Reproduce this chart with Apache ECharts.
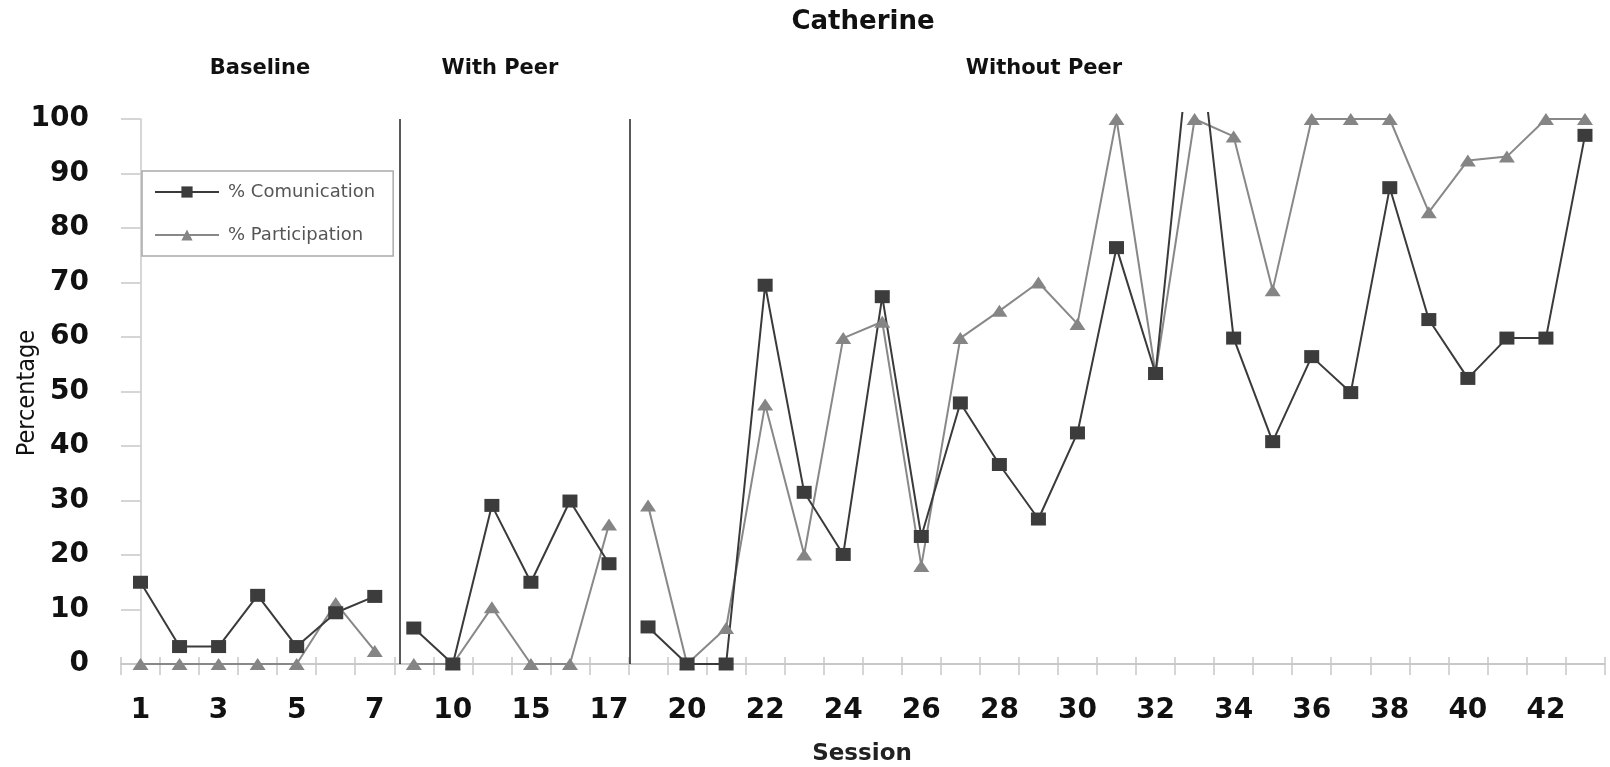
<!DOCTYPE html>
<html>
<head>
<meta charset="utf-8">
<script src="https://cdn.jsdelivr.net/npm/echarts@6/dist/echarts.min.js"></script>
<style>
  html, body { margin: 0; padding: 0; background: #fff; }
  #chart { width: 1610px; height: 767px; }
</style>
</head>
<body>
<div id="chart"></div>
<script>
// ---- Data ----
const sessions = ['1','2','3','4','5','6','7','8','10','13','15','16','17','19',
  '20','21','22','23','24','25','26','27','28','29','30','31','32','33','34','35',
  '36','37','38','39','40','41','42','43'];
const phaseNames = ['Baseline', 'With Peer', 'Without Peer'];

const commBaseline    = [15.0, 3.2, 3.2, 12.6, 3.2, 9.4, 12.4];
const commWithPeer    = [6.6, 0, 29.1, 15.0, 29.9, 18.4];
const commWithoutPeer = [6.8, 0, 0, 69.5, 31.5, 20.1, 67.4, 23.4, 47.9, 36.6, 26.6, 42.4,
  76.4, 53.3, 123, 59.8, 40.8, 56.4, 49.8, 87.4, 63.2, 52.4, 59.8, 59.8, 97.0];

const partBaseline    = [0, 0, 0, 0, 0, 11.2, 2.4];
const partWithPeer    = [0, 0, 10.4, 0, 0, 25.6];
const partWithoutPeer = [29.1, 0, 6.6, 47.6, 20.1, 59.8, 62.8, 18.0, 59.8, 64.8, 70.0, 62.4,
  100, 53.3, 100, 96.8, 68.6, 100, 100, 100, 82.9, 92.4, 93.1, 100, 100];

// phase-change lines, in session-index units
const phaseChangeAt = [6.64, 12.53];

const yTicks = [0, 10, 20, 30, 40, 50, 60, 70, 80, 90, 100];

// ---- Layout / style ----
const plot = { left: 121, right: 1604.5, top: 119, bottom: 664, clipTop: 113 };
const W = 1610, H = 767;
const yMaxClip = 100 * (plot.bottom - plot.clipTop) / (plot.bottom - plot.top);

const COMM = { name: '% Comunication', line: '#3a3a3a', mark: '#3c3c3c', symbol: 'rect', size: [15, 13] };
const PART = { name: '% Participation', line: '#888888', mark: '#858585', symbol: 'triangle', size: [16, 12] };
const axisGray = '#c8c8c8';
const FONT = '"DejaVu Sans", "Liberation Sans", Arial, sans-serif';

function pad(values, offset) {
  const arr = sessions.map(() => '-');
  values.forEach((v, i) => { arr[offset + i] = v; });
  return arr;
}

const commPhases = [commBaseline, commWithPeer, commWithoutPeer];
const partPhases = [partBaseline, partWithPeer, partWithoutPeer];

function buildSeries(spec, phases) {
  let offset = 0;
  return phases.map(vals => {
    const s = {
      name: spec.name,
      type: 'line',
      xAxisIndex: 1,
      yAxisIndex: 2,
      data: pad(vals, offset),
      symbol: spec.symbol,
      symbolSize: spec.size,
      showAllSymbol: true,
      connectNulls: false,
      clip: true,
      lineStyle: { color: spec.line, width: 2 },
      itemStyle: { color: spec.mark, borderWidth: 0 },
      emphasis: { disabled: true },
      animation: false
    };
    offset += vals.length;
    return s;
  });
}

const gridCommon = { left: plot.left, right: W - plot.right, bottom: H - plot.bottom, containLabel: false };

const option = {
  backgroundColor: '#ffffff',
  animation: false,
  grid: [
    Object.assign({ top: plot.top }, gridCommon),
    Object.assign({ top: plot.clipTop }, gridCommon)
  ],
  legend: {
    orient: 'vertical',
    left: 142, top: 171,
    padding: [12, 18, 12, 12],
    itemWidth: 64, itemHeight: 14, itemGap: 25,
    borderColor: '#aaaaaa', borderWidth: 1.5,
    backgroundColor: '#ffffff',
    textStyle: { fontFamily: FONT, fontSize: 18, color: '#555555', padding: [0, 0, 0, 4] },
    data: [COMM.name, PART.name]
  },
  xAxis: [
    {
      type: 'category', gridIndex: 0, position: 'bottom', data: sessions, boundaryGap: true,
      axisLine: { show: true, onZero: false, lineStyle: { color: axisGray, width: 2 } },
      axisTick: { show: true, interval: 0, length: 11, lineStyle: { color: axisGray, width: 1.5 } },
      axisLabel: { interval: 1, margin: 33, fontFamily: FONT, fontSize: 28, fontWeight: 'bold', color: '#111111' },
      splitLine: { show: false }
    },
    {
      type: 'category', gridIndex: 1, position: 'bottom', data: sessions, boundaryGap: true,
      axisLine: { show: false, onZero: false },
      axisTick: { show: true, inside: true, interval: 0, length: 7, lineStyle: { color: axisGray, width: 1.5 } },
      axisLabel: { show: false },
      splitLine: { show: false }
    },
    {
      type: 'value', gridIndex: 0, show: false, min: -0.5, max: sessions.length - 0.5,
      splitLine: { show: false }
    }
  ],
  yAxis: [
    {
      type: 'value', gridIndex: 0, min: 0, max: 100, interval: 10,
      axisLine: { show: true, lineStyle: { color: axisGray, width: 1.5 } },
      axisTick: { show: true, length: 11, lineStyle: { color: axisGray, width: 1.5 } },
      axisLabel: { margin: 32, fontFamily: FONT, fontSize: 28, fontWeight: 'bold', color: '#111111',
        formatter: v => (yTicks.indexOf(v) >= 0 ? String(v) : '') },
      splitLine: { show: false }
    },
    {
      type: 'value', gridIndex: 0, min: 0, max: 100, interval: 10, position: 'left',
      axisLine: { show: false },
      axisTick: { show: true, inside: true, length: 11, lineStyle: { color: axisGray, width: 1.5 } },
      axisLabel: { show: false },
      splitLine: { show: false }
    },
    {
      type: 'value', gridIndex: 1, min: 0, max: yMaxClip, show: false,
      splitLine: { show: false }
    }
  ],
  series: [
    {
      name: 'phase-lines', type: 'line', xAxisIndex: 2, yAxisIndex: 0, data: [],
      markLine: {
        silent: true, symbol: 'none', animation: false,
        label: { show: false },
        lineStyle: { color: '#222222', width: 1.5, type: 'solid' },
        data: phaseChangeAt.map(x => ({ xAxis: x }))
      }
    }
  ].concat(buildSeries(PART, partPhases), buildSeries(COMM, commPhases)),
  graphic: [
    { type: 'text', x: 863, y: 22, style: { text: 'Catherine', fontFamily: FONT, fontSize: 26, fontWeight: 'bold', fill: '#111111', align: 'center', verticalAlign: 'middle' } },
    { type: 'text', x: 260, y: 69, style: { text: phaseNames[0], fontFamily: FONT, fontSize: 21, fontWeight: 'bold', fill: '#111111', align: 'center', verticalAlign: 'middle' } },
    { type: 'text', x: 500, y: 69, style: { text: phaseNames[1], fontFamily: FONT, fontSize: 21, fontWeight: 'bold', fill: '#111111', align: 'center', verticalAlign: 'middle' } },
    { type: 'text', x: 1044, y: 69, style: { text: phaseNames[2], fontFamily: FONT, fontSize: 21, fontWeight: 'bold', fill: '#111111', align: 'center', verticalAlign: 'middle' } },
    { type: 'text', x: 862, y: 754, style: { text: 'Session', fontFamily: FONT, fontSize: 23, fontWeight: 'bold', fill: '#222222', align: 'center', verticalAlign: 'middle' } },
    { type: 'text', x: 27, y: 393, rotation: Math.PI / 2, style: { text: 'Percentage', fontFamily: '"Liberation Sans Narrow", "DejaVu Sans Condensed", sans-serif', fontSize: 25, fill: '#111111', align: 'center', verticalAlign: 'middle' } }
  ]
};

const chart = echarts.init(document.getElementById('chart'), null, { renderer: 'canvas' });
chart.setOption(option);
</script>
</body>
</html>
